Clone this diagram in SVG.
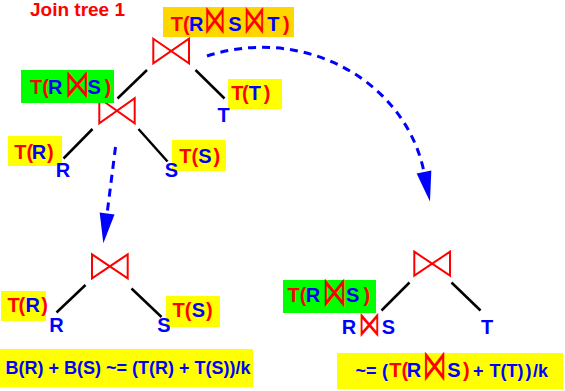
<svg xmlns="http://www.w3.org/2000/svg" width="565" height="391" viewBox="0 0 565 391">
<style>
.t{font-family:"Liberation Sans",Arial,Helvetica,sans-serif;font-weight:bold;font-size:20px}
.f{font-size:18px}
.r{fill:#ff0000}
.b{fill:#0000ff}
.bt{font-family:"DejaVu Sans",sans-serif;font-weight:normal;font-size:28px;fill:#ff0000}
.edge{stroke:#000;stroke-width:2.5;fill:none}
.join{fill:none;stroke:#ff0000;stroke-width:2}
.flow{stroke:#0000ff;stroke-width:3;fill:none;stroke-dasharray:8 6}
.yel{fill:#ffff00}
.grn{fill:#00ff00}
.org{fill:#ffd700}
</style>
<defs>
<marker id="ah" markerUnits="userSpaceOnUse" markerWidth="32" markerHeight="16" refX="0" refY="7.5" orient="auto" overflow="visible">
<path d="M0,0 L30,7.5 L0,15 Z" fill="#0000ff"/>
</marker>
</defs>
<text id="title" x="30" y="16" class="t r" style="font-size:19px">Join tree 1</text>
<g id="connectors">
<line class="edge" x1="147" y1="70" x2="117.5" y2="98.5"/>
<line class="edge" x1="195.5" y1="70" x2="224.5" y2="98.5"/>
<line class="edge" x1="92.5" y1="129" x2="63.5" y2="158.5"/>
<line class="edge" x1="138.5" y1="129" x2="167.5" y2="161.5"/>
<line class="edge" x1="85.5" y1="285" x2="56.5" y2="312.5"/>
<line class="edge" x1="131.5" y1="288.5" x2="161.5" y2="317"/>
<line class="edge" x1="409.5" y1="282.5" x2="381.5" y2="310.5"/>
<line class="edge" x1="451.5" y1="282.5" x2="480.5" y2="310.5"/>
<path class="flow" d="M115.5,147 L107.1,213.5" marker-end="url(#ah)"/>
<path class="flow" d="M207,56 A165,153 0 0,1 424,172" marker-end="url(#ah)"/>
</g>
<g id="n-top">
<path class="join" d="M153.3,38.7 L189,63.3 L189,38.7 L153.3,63.3 Z"/>
<rect class="org" x="163" y="7" width="131" height="30"/>
<text class="t" y="30.7"><tspan x="170.7" class="r">T(</tspan><tspan x="189" class="b">R</tspan><tspan x="228.3" class="b">S</tspan><tspan x="267.3" class="b">T</tspan><tspan x="283" class="r">)</tspan></text>
<text class="bt" transform="translate(204.1,33) scale(0.79,1.43)">⋈</text>
<text class="bt" transform="translate(243.4,33) scale(0.79,1.43)">⋈</text>
</g>
<g id="n-mid">
<path class="join" d="M99.3,98.3 L134.7,123.3 L134.7,98.3 L99.3,123.3 Z"/>
<rect class="grn" x="21" y="70" width="93" height="33"/>
<text class="t" y="94.3"><tspan x="30" class="r">T(</tspan><tspan x="48" class="b">R</tspan><tspan x="87.5" class="b">S</tspan><tspan x="104.6" class="r">)</tspan></text>
<text class="bt" transform="translate(65,96.7) scale(0.88,1.4)">⋈</text>
</g>
<g id="n-T">
<rect class="yel" x="228" y="79" width="54" height="30"/>
<text class="t" y="100"><tspan x="231.3" class="r">T</tspan><tspan x="242" class="r">(</tspan><tspan x="248.8" class="b">T</tspan><tspan x="263.8" class="r">)</tspan></text>
<text class="t b" x="217.5" y="122">T</text>
</g>
<g id="n-R1">
<rect class="yel" x="8" y="136" width="54" height="30"/>
<text class="t" y="159.3"><tspan x="14.3" class="r">T(</tspan><tspan x="31.8" class="b">R</tspan><tspan x="47" class="r">)</tspan></text>
<text class="t b" x="55.8" y="177.3">R</text>
</g>
<g id="n-S1">
<rect class="yel" x="172" y="140" width="54" height="31"/>
<text class="t" y="163.3"><tspan x="179.3" class="r">T(</tspan><tspan x="198.3" class="b">S</tspan><tspan x="213.6" class="r">)</tspan></text>
<text class="t b" x="164.7" y="176.7">S</text>
</g>
<g id="n-bot">
<path class="join" d="M92,254.3 L127.7,278.3 L127.7,254.3 L92,278.3 Z"/>
</g>
<g id="n-R2">
<rect class="yel" x="1" y="291" width="45" height="30"/>
<text class="t" y="312.3"><tspan x="7.4" class="r">T</tspan><tspan x="18.6" class="r">(</tspan><tspan x="25.4" class="b">R</tspan><tspan x="41.3" class="r">)</tspan></text>
<text class="t b" x="49.2" y="331.7">R</text>
</g>
<g id="n-S2">
<rect class="yel" x="166" y="296" width="54" height="31"/>
<text class="t" y="317.3"><tspan x="172.6" class="r">T(</tspan><tspan x="191.7" class="b">S</tspan><tspan x="205.9" class="r">)</tspan></text>
<text class="t b" x="157.3" y="331.7">S</text>
</g>
<g id="formula-left">
<rect class="yel" x="0" y="349" width="253" height="38"/>
<text class="t f b" x="5.4" y="374">B(R) + B(S) ~= (T(R) + T(S))/k</text>
</g>
<g id="n-right">
<path class="join" d="M414.3,251.7 L450,275.7 L450,251.7 L414.3,275.7 Z"/>
</g>
<g id="n-RS">
<rect class="grn" x="283" y="280" width="93" height="33"/>
<text class="t" y="301.7"><tspan x="287.6" class="r">T(</tspan><tspan x="305.8" class="b">R</tspan><tspan x="345.9" class="b">S</tspan><tspan x="363.6" class="r">)</tspan></text>
<text class="bt" transform="translate(322.3,306) scale(0.88,1.5)">⋈</text>
<text class="t" y="334"><tspan x="341.8" class="b">R</tspan><tspan x="381.7" class="b">S</tspan></text>
<text class="bt" transform="translate(358.3,336) scale(0.79,1.26)">⋈</text>
</g>
<g id="n-T2">
<text class="t b" x="481" y="334">T</text>
</g>
<g id="formula-right">
<rect class="yel" x="337" y="353" width="226" height="36"/>
<text class="t" y="376.7"><tspan x="355.5" class="b f">~=</tspan><tspan x="382" class="b f">(</tspan><tspan x="389.3" class="r">T(</tspan><tspan x="406.8" class="b">R</tspan><tspan x="447.3" class="b">S</tspan><tspan x="463" class="r">)</tspan><tspan x="473" class="b f">+</tspan><tspan x="489.5" class="b f">T(T)</tspan><tspan x="525.5" class="b f">)</tspan><tspan x="533" class="b f">/k</tspan></text>
<text class="bt" transform="translate(422.4,380) scale(0.87,1.55)">⋈</text>
</g>
</svg>
